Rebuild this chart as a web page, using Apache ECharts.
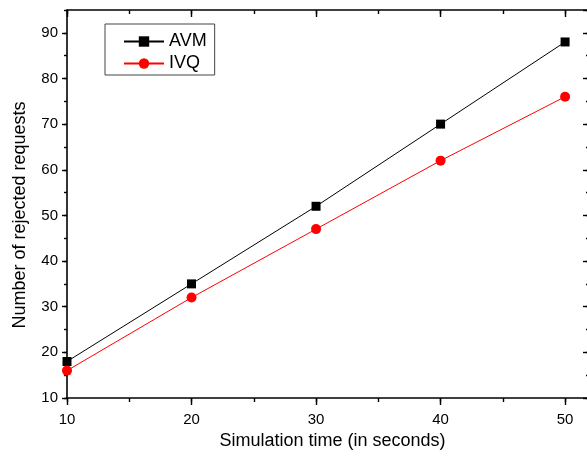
<!DOCTYPE html>
<html>
<head>
<meta charset="utf-8">
<script src="https://cdn.jsdelivr.net/npm/echarts@6/dist/echarts.min.js"></script>
<style>
html,body{margin:0;padding:0;background:#fff;}
#c{width:587px;height:458px;}
</style>
</head>
<body>
<div id="c"></div>
<script>
var simTime = [10, 20, 30, 40, 50];
var avm = [18, 35, 52, 70, 88];
var ivq = [16, 32, 47, 62, 76];
var xRange = [10, 52];
var yRange = [10, 95];

var FONT = 'Liberation Sans, Arial, sans-serif';
var chart = echarts.init(document.getElementById('c'), null, {renderer: 'canvas'});

function pairs(xs, ys) { return xs.map(function (x, i) { return [x, ys[i]]; }); }

function axisBase(pos, interval, tickLen, inside, showLine, labels, extra) {
  var o = {
    type: 'value', position: pos,
    min: pos === 'bottom' || pos === 'top' ? xRange[0] : yRange[0],
    max: pos === 'bottom' || pos === 'top' ? xRange[1] : yRange[1],
    interval: interval,
    splitLine: {show: false},
    axisLine: {show: showLine, onZero: false, lineStyle: {color: '#000', width: 1.6}},
    axisTick: {show: true, inside: inside, length: tickLen, lineStyle: {color: '#000', width: 1.4}},
    axisLabel: {show: labels, color: '#000', fontFamily: FONT, fontSize: 15, showMaxLabel: false}
  };
  for (var k in extra) o[k] = extra[k];
  return o;
}

var option = {
  backgroundColor: '#fff',
  animation: false,
  grid: {left: 67, top: 10, width: 523, bottom: 60, containLabel: false, outerBoundsMode: 'none'},
  legend: {
    orient: 'vertical', left: 105, top: 24,
    padding: [8, 8, 2, 18], itemGap: 3,
    itemWidth: 40, itemHeight: 13,
    borderColor: '#444', borderWidth: 1,
    textStyle: {fontFamily: FONT, fontSize: 18, color: '#000', lineHeight: 19},
    data: ['AVM', 'IVQ']
  },
  xAxis: [
    axisBase('bottom', 10, 7, false, true, true, {
      name: 'Simulation time (in seconds)', nameLocation: 'middle', nameGap: 34,
      nameTextStyle: {fontFamily: FONT, fontSize: 18, color: '#000', padding: [0, 0, 0, 8]},
      axisLabel: {show: true, color: '#000', fontFamily: FONT, fontSize: 15, showMaxLabel: false, margin: 14}
    }),
    axisBase('bottom', 5, 4, false, false, false, {}),
    axisBase('top', 10, 7, true, true, false, {}),
    axisBase('top', 5, 4, true, false, false, {})
  ],
  yAxis: [
    axisBase('left', 10, 5, false, true, true, {
      name: 'Number of rejected requests', nameLocation: 'middle', nameGap: 38,
      nameTextStyle: {fontFamily: FONT, fontSize: 18, color: '#000', padding: [0, 22, 0, 0]},
      axisLabel: {show: true, color: '#000', fontFamily: FONT, fontSize: 15, showMaxLabel: false, margin: 9}
    }),
    axisBase('left', 5, 3, false, false, false, {}),
    axisBase('right', 10, 7, true, true, false, {}),
    axisBase('right', 5, 4, true, false, false, {})
  ],
  series: [
    {
      name: 'AVM', type: 'line', xAxisIndex: 0, yAxisIndex: 0,
      data: pairs(simTime, avm),
      symbol: 'rect', symbolSize: 9,
      itemStyle: {color: '#000'},
      lineStyle: {color: '#000', width: 1}
    },
    {
      name: 'IVQ', type: 'line', xAxisIndex: 0, yAxisIndex: 0,
      data: pairs(simTime, ivq),
      symbol: 'circle', symbolSize: 10,
      itemStyle: {color: '#ff0000'},
      lineStyle: {color: '#ff0000', width: 1}
    }
  ]
};
chart.setOption(option);
</script>
</body>
</html>
